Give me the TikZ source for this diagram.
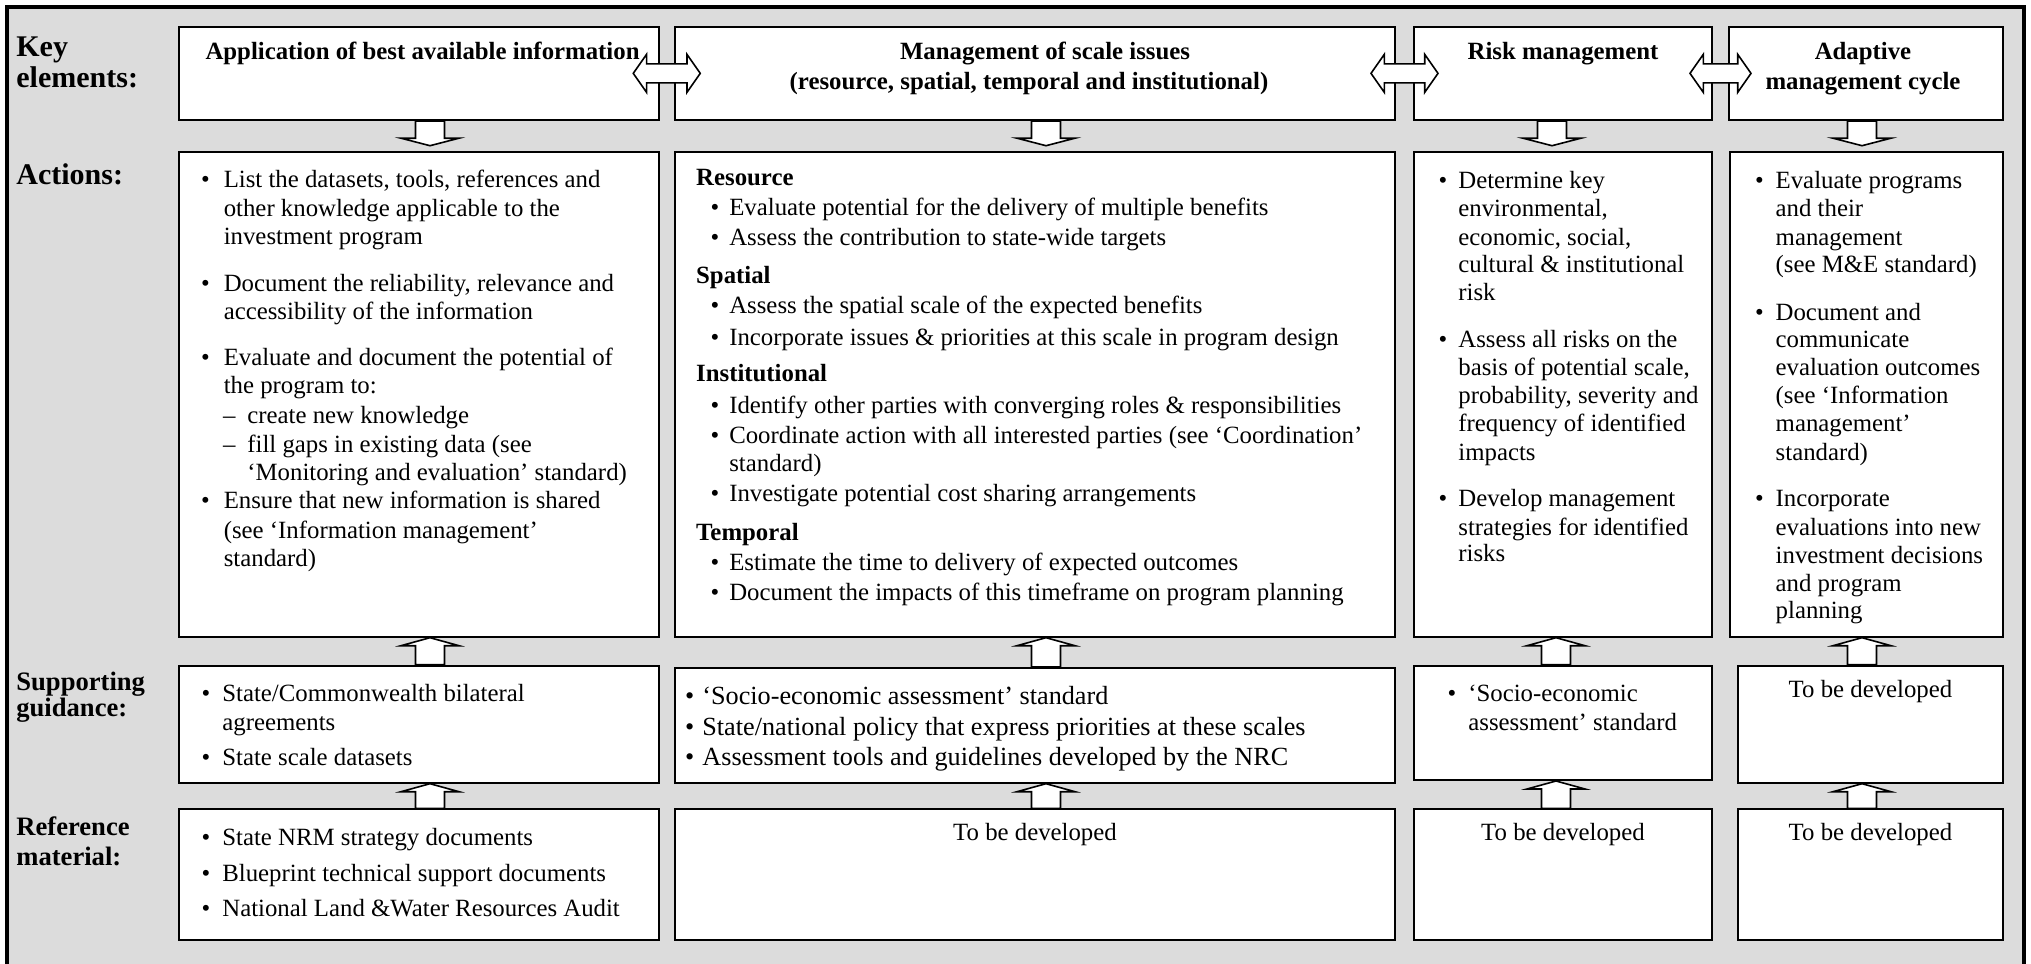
\documentclass[tikz,border=0pt]{standalone}
\usepackage{fontspec}
\setmainfont{Liberation Serif}
\usetikzlibrary{calc,fit}
\definecolor{panelgray}{RGB}{220,220,220}
% bullet / dash hung to the left of the current text position
\newcommand\blt[1][6pt]{\llap{\textbullet\hspace{#1}}}
\newcommand\dsh{\llap{--\hspace{6pt}}}

\tikzset{
  box/.style={draw=black, line width=1pt, fill=white, inner sep=0pt},
  lbl/.style={anchor=mid west, inner sep=0pt, font=\fontsize{13.3}{15}\selectfont\bfseries},
  lblbig/.style={lbl, font=\fontsize{15}{17}\selectfont\bfseries},
  txt/.style={anchor=mid west, inner sep=0pt, yshift=-2pt, font=\fontsize{12.4}{14.3}\selectfont},
  txtwide/.style={txt, font=\fontsize{13.1}{15}\selectfont},
  head/.style={txt, font=\fontsize{12.4}{14.3}\selectfont\bfseries},
  ttl/.style={anchor=mid, inner sep=0pt, font=\fontsize{12.4}{14.3}\selectfont\bfseries},
  ctr/.style={anchor=mid, inner sep=0pt, yshift=-2pt, font=\fontsize{12.4}{14.3}\selectfont},
  barrow/.style={draw=black, fill=white, line width=0.8pt, line join=miter},
}

% block arrow pointing down from box #2 to box #3 at the x of coordinate #1
\newcommand\downarr[3]{%
  \filldraw[barrow] ($(#1 |- #2.south)+(-14.5,0)$) -- ($(#1 |- #3.north)+(-14.5,-12.5)$)
    -- ++(-14.5,0) -- ($(#1 |- #3.north)+(0,-5)$) -- ($(#1 |- #3.north)+(29,-12.5)$)
    -- ++(-14.5,0) -- ($(#1 |- #2.south)+(14.5,0)$) -- cycle;}
% block arrow pointing up from box #2 to box #3 at the x of coordinate #1
\newcommand\uparr[3]{%
  \filldraw[barrow] ($(#1 |- #2.north)+(-14.5,0)$) -- ($(#1 |- #3.south)+(-14.5,8)$)
    -- ++(-14.5,0) -- (#1 |- #3.south) -- ($(#1 |- #3.south)+(29,8)$)
    -- ++(-14.5,0) -- ($(#1 |- #2.north)+(14.5,0)$) -- cycle;}
% two-headed block arrow in the gap between boxes #1 and #2, half length #3
\newcommand\dblarr[3]{%
  \coordinate (#1#2) at ($(#1.east)!0.5!(#2.west)$);
  \filldraw[barrow] ($(#1#2)+(-#3,0)$) -- ++(13.3,-19) -- ++(0,9.5)
    -- ++({2*#3-26.6},0) -- ++(0,-9.5) -- ++(13.3,19) -- ++(-13.3,19)
    -- ++(0,-9.5) -- ++({-(2*#3-26.6)},0) -- ++(0,9.5) -- cycle;}

\begin{document}
\begin{tikzpicture}[x=0.5pt,y=-0.5pt]
\useasboundingbox (0,0) rectangle (2031,964);

% grey panel with heavy frame
\begin{scope}
  \clip (0,0) rectangle (2031,964);
  \fill[white] (0,0) rectangle (2031,964);
  \draw[line width=2pt, fill=panelgray] (7,6.5) rectangle (2024,1000);
\end{scope}

% ---------------- boxes ----------------
% key elements
\node[box, fit={(178.6,26.7) (658.5,120)}] (k1) {};
\node[box, fit={(675,26.7) (1395,120)}]    (k2) {};
\node[box, fit={(1414,26.7) (1712,120)}]   (k3) {};
\node[box, fit={(1729,26.7) (2003,120)}]   (k4) {};
% actions
\node[box, fit={(178.6,151.7) (658.5,636.7)}] (a1) {};
\node[box, fit={(675,151.7) (1395,636.7)}]    (a2) {};
\node[box, fit={(1414,151.7) (1712,636.7)}]   (a3) {};
\node[box, fit={(1730,151.7) (2003,636.7)}]   (a4) {};
% supporting guidance
\node[box, fit={(178.6,665.7) (658.5,782.7)}] (s1) {};
\node[box, fit={(675,668) (1395,782.7)}]      (s2) {};
\node[box, fit={(1414,665.7) (1712,780)}]     (s3) {};
\node[box, fit={(1738,665.7) (2003,782.7)}]   (s4) {};
% reference material
\node[box, fit={(178.6,809.3) (658.5,940)}] (r1) {};
\node[box, fit={(675,809.3) (1395,940)}]    (r2) {};
\node[box, fit={(1414,809.3) (1712,940)}]   (r3) {};
\node[box, fit={(1738,809.3) (2003,940)}]   (r4) {};

% ---------------- arrows ----------------
\coordinate (xa) at (430,0);
\coordinate (xb) at (1046,0);
\coordinate (xc) at (1552,0);
\coordinate (xcu) at (1556,0);
\coordinate (xd) at (1862,0);
\coordinate (xdu) at (1862,0);

\dblarr{k1}{k2}{33.5}
\dblarr{k2}{k3}{33.5}
\dblarr{k3}{k4}{30.5}

\downarr{xa}{k1}{a1}
\downarr{xb}{k2}{a2}
\downarr{xc}{k3}{a3}
\downarr{xd}{k4}{a4}

\uparr{xa}{s1}{a1}
\uparr{xb}{s2}{a2}
\uparr{xcu}{s3}{a3}
\uparr{xdu}{s4}{a4}

\uparr{xa}{r1}{s1}
\uparr{xb}{r2}{s2}
\uparr{xcu}{r3}{s3}
\uparr{xdu}{r4}{s4}

% ---------------- row labels ----------------
\node[lblbig] (lkey1) at (16,52) {Key};
\node[lblbig] (lkey2) at (16,83) {elements:};
\node[lblbig] (lact)  at (16,179.5) {Actions:};
\node[lbl] (lsup1) at (16,685.5) {Supporting};
\node[lbl] (lsup2) at (16,711.5) {guidance:};
\node[lbl] (lref1) at (16,831) {Reference};
\node[lbl] (lref2) at (16,861) {material:};

% ---------------- key element titles ----------------
\node[ttl] (k1t)  at ($(k1.north)+(4,29.3)$) {Application of best available information};
\node[ttl] (k2ta) at ($(k2.north)+(10,29.3)$) {Management of scale issues};
\node[ttl] (k2tb) at ($(k2.north)+(-6,59.3)$) {(resource, spatial, temporal and institutional)};
\node[ttl] (k3t)  at ($(k3.north)+(0,29.3)$) {Risk management};
\node[ttl] (k4ta) at ($(k4.north)+(-3,29.3)$) {Adaptive};
\node[ttl] (k4tb) at ($(k4.north)+(-3,59.3)$) {management cycle};

% ---------------- actions: best available information ----------------
\foreach \yy/\ln [count=\n] in {
  179.3/{\blt[7pt]List the datasets, tools, references and},
  207.7/{other knowledge applicable to the},
  236/{investment program},
  283.3/{\blt[7pt]Document the reliability, relevance and},
  311/{accessibility of the information},
  356.7/{\blt[7pt]Evaluate and document the potential of},
  385/{the program to:},
  500/{\blt[7pt]Ensure that new information is shared},
  530/{(see `Information management'},
  558.3/{standard)}}
  \node[txt] (aone\n) at (223.4,\yy) {\ln};
\foreach \yy/\ln [count=\n] in {
  415/{\dsh create new knowledge},
  444/{\dsh fill gaps in existing data (see},
  471.7/{`Monitoring and evaluation' standard)}}
  \node[txt] (aonesub\n) at (247,\yy) {\ln};

% ---------------- actions: scale issues ----------------
\foreach \yy/\ln [count=\n] in {
  176.7/Resource, 275/Spatial, 373.3/Institutional, 531.7/Temporal}
  \node[head] (atwohead\n) at (695.8,\yy) {\ln};
\foreach \yy/\ln [count=\n] in {
  206.7/{\blt[5pt]Evaluate potential for the delivery of multiple benefits},
  236.7/{\blt[5pt]Assess the contribution to state-wide targets},
  305/{\blt[5pt]Assess the spatial scale of the expected benefits},
  336.7/{\blt[5pt]Incorporate issues \& priorities at this scale in program design},
  405/{\blt[5pt]Identify other parties with converging roles \& responsibilities},
  435/{\blt[5pt]Coordinate action with all interested parties (see `Coordination'},
  463.3/{standard)},
  493.3/{\blt[5pt]Investigate potential cost sharing arrangements},
  561.7/{\blt[5pt]Estimate the time to delivery of expected outcomes},
  591.7/{\blt[5pt]Document the impacts of this timeframe on program planning}}
  \node[txt] (atwo\n) at (728.9,\yy) {\ln};

% ---------------- actions: risk management ----------------
\foreach \yy/\ln [count=\n] in {
  180/{\blt[5.5pt]Determine key},
  208.3/{environmental,},
  236.7/{economic, social,},
  264/{cultural \& institutional},
  291.7/{risk},
  339.3/{\blt[5.5pt]Assess all risks on the},
  366.7/{basis of potential scale,},
  395/{probability, severity and},
  423.3/{frequency of identified},
  451.7/{impacts},
  498.3/{\blt[5.5pt]Develop management},
  526.7/{strategies for identified},
  553.3/{risks}}
  \node[txt] (athree\n) at (1458,\yy) {\ln};

% ---------------- actions: adaptive management ----------------
\foreach \yy/\ln [count=\n] in {
  180/{\blt[6pt]Evaluate programs},
  208.3/{and their},
  236.7/{management},
  264/{(see M\&E standard)},
  311.7/{\blt[6pt]Document and},
  339.3/{communicate},
  366.7/{evaluation outcomes},
  395/{(see `Information},
  423.3/{management'},
  451.7/{standard)},
  498.3/{\blt[6pt]Incorporate},
  526.7/{evaluations into new},
  555/{investment decisions},
  583.3/{and program},
  610/{planning}}
  \node[txt] (afour\n) at (1775.3,\yy) {\ln};

% ---------------- supporting guidance ----------------
\foreach \yy/\ln [count=\n] in {
  693.3/{\blt[6pt]State/Commonwealth bilateral},
  721.7/{agreements},
  756.7/{\blt[6pt]State scale datasets}}
  \node[txt] (sone\n) at (222,\yy) {\ln};
\foreach \yy/\ln [count=\n] in {
  695.8/{\blt[4pt]`Socio-economic assessment' standard},
  726.9/{\blt[4pt]State/national policy that express priorities at these scales},
  756.7/{\blt[4pt]Assessment tools and guidelines developed by the NRC}}
  \node[txtwide] (stwo\n) at (702,\yy) {\ln};
\foreach \yy/\ln [count=\n] in {
  693.3/{\blt[6pt]`Socio-economic},
  721.7/{assessment' standard}}
  \node[txt] (sthree\n) at (1468,\yy) {\ln};
\node[ctr] (sfour) at ($(s4.north)+(0,24.3)$) {To be developed};

% ---------------- reference material ----------------
\foreach \yy/\ln [count=\n] in {
  836.7/{\blt[6pt]State NRM strategy documents},
  873.3/{\blt[6pt]Blueprint technical support documents},
  908.3/{\blt[6pt]National Land \&Water Resources Audit}}
  \node[txt] (rone\n) at (222,\yy) {\ln};
\node[ctr] (rtwo)   at ($(r2.north)+(0,23.7)$) {To be developed};
\node[ctr] (rthree) at ($(r3.north)+(0,23.7)$) {To be developed};
\node[ctr] (rfour)  at ($(r4.north)+(0,23.7)$) {To be developed};

\end{tikzpicture}
\end{document}
